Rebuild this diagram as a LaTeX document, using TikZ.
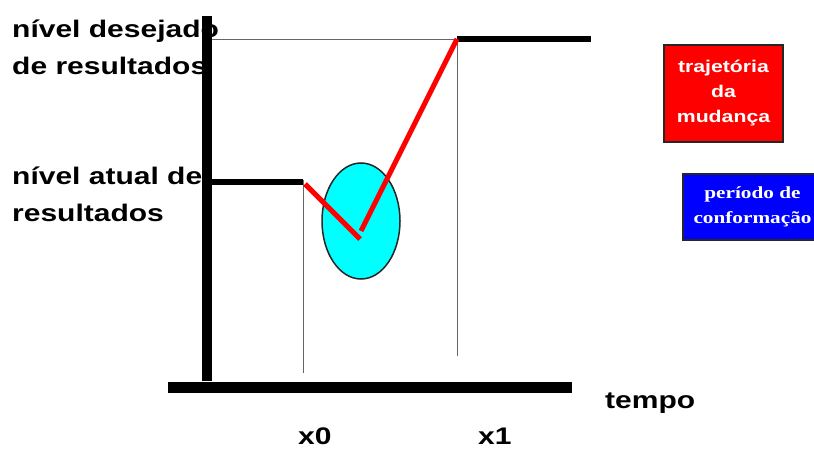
\documentclass[tikz,border=0pt]{standalone}
\usepackage{fontspec}
\setmainfont{Liberation Sans}[FakeStretch=1.25]
\newfontfamily\boxserif{Liberation Serif}[FakeStretch=1.25]
\usetikzlibrary{positioning, shapes.geometric}
\definecolor{aqua}{RGB}{0,255,255}
\definecolor{pureblue}{RGB}{0,0,255}
\definecolor{purered}{RGB}{255,0,0}

\begin{document}
\begin{tikzpicture}[
  x=1pt, y=-1pt,
  axis/.style={line width=10pt},
  level/.style={line width=5.5pt},
  guide/.style={draw=black!60, line width=0.8pt},
  trajline/.style={purered, line width=5pt},
  lbl/.style={font=\fontsize{24}{37}\selectfont\bfseries, align=left, inner sep=0pt},
  tick/.style={font=\fontsize{24}{30}\selectfont\bfseries, inner sep=0pt},
  rbox/.style={rectangle, draw=black!85, line width=1.5pt, fill=purered, text=white, align=center,
    minimum width=119pt, minimum height=97pt, inner sep=0pt, font=\fontsize{17}{25}\selectfont\bfseries},
  bbox/.style={rectangle, draw=black!85, line width=1.5pt, fill=pureblue, text=white, align=center,
    minimum width=139pt, minimum height=66pt, inner sep=0pt, font=\fontsize{17}{25}\selectfont\boxserif\bfseries},
  blob/.style={ellipse, draw=black!85, line width=1.5pt, fill=aqua, minimum width=78pt, minimum height=116pt, inner sep=0pt}
]
  \useasboundingbox (0,0) rectangle (814,449);

  % Axes
  \coordinate (ytop) at (207,16);
  \coordinate (ybot) at (207,381);
  \coordinate (xleft) at (168,387);
  \coordinate (xright) at (572,387);
  \draw[axis] (ytop) -- (ybot);
  \draw[axis, line width=11pt] (xleft) -- (xright);

  % Levels and guides
  \coordinate (goal0) at (212,39);
  \coordinate (goal1) at (457,39);
  \coordinate (goal2) at (591,39);
  \coordinate (now0) at (207,182);
  \coordinate (now1) at (303,182);
  \coordinate (x0end) at (303,373);
  \coordinate (x1end) at (457,356);
  \draw[guide] (goal0) -- (goal1);
  \draw[guide] (303,180) -- (x0end);
  \draw[guide] (goal1) -- (x1end);
  \draw[level] (now0) -- (now1);
  \draw[level] (goal1) -- (goal2);

  % Conformation period and trajectory
  \node[blob] (dip) at (361,221) {};
  \coordinate (low0) at (360,239);
  \coordinate (low1) at (361,231);
  \draw[trajline] (305,184) -- (low0);
  \draw[trajline] (low1) -- (goal1);

  % Labels
  \node[lbl, anchor=base west] (desired) at (12,75) {nível desejado\\de resultados};
  \node[lbl, anchor=base west] (current) at (12,222) {nível atual de\\resultados};
  \node[tick, anchor=base west] (tempo) at (605,408) {tempo};
  \node[tick, anchor=base west] (xzero) at (298,444) {x0};
  \node[tick, anchor=base west] (xone) at (478,444) {x1};

  % Legend
  \node[rbox] (change) at (723.5,93.5) {trajetória\\da\\mudança};
  \node[bbox] (conform) at (752.5,207) {período de\\conformação};
\end{tikzpicture}
\end{document}
